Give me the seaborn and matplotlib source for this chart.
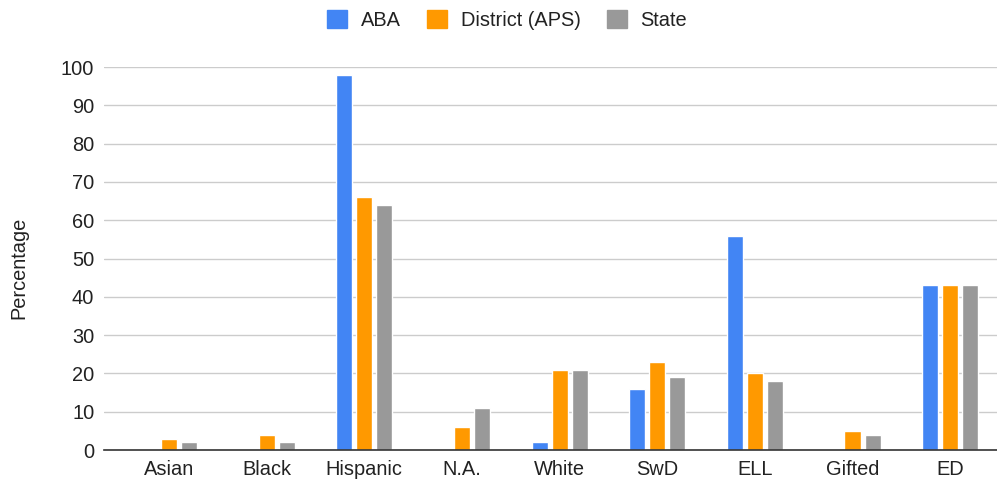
import pandas as pd
import seaborn as sns
import matplotlib.pyplot as plt
from matplotlib.patches import Patch

# Values
groups = ['Asian', 'Black', 'Hispanic', 'N.A.', 'White', 'SwD', 'ELL', 'Gifted', 'ED']
aba = [0, 0, 98, 0, 2, 16, 56, 0, 43]
district = [3, 4, 66, 6, 21, 23, 20, 5, 43]
state = [2, 2, 64, 11, 21, 19, 18, 4, 43]
series = ['ABA', 'District (APS)', 'State']
colors = ['#4285F4', '#FF9900', '#999999']


def build_frame():
    rows = []
    for name, vals in zip(series, [aba, district, state]):
        for g, v in zip(groups, vals):
            rows.append({'group': g, 'series': name, 'value': v})
    return pd.DataFrame(rows)


def main():
    df = build_frame()

    sns.set_style('white')
    plt.rcParams['font.family'] = ['Liberation Sans', 'DejaVu Sans']
    fs = 14.4

    fig = plt.figure(figsize=(9.97, 4.82), dpi=100)
    ax = fig.add_axes([104 / 997, 32 / 482, 893 / 997, 383 / 482])

    sns.barplot(data=df, x='group', y='value', hue='series', order=groups,
                hue_order=series, palette=colors, width=0.615, gap=0.2,
                saturation=1, legend=False, ax=ax, zorder=3)

    ax.set_ylim(0, 100)
    ax.set_xlim(-0.666, 8.48)
    ax.set_yticks(range(0, 101, 10))
    ax.yaxis.grid(True, color='#cccccc', linewidth=1, zorder=0)
    ax.xaxis.grid(False)
    for side in ['top', 'right', 'left']:
        ax.spines[side].set_visible(False)
    ax.spines['bottom'].set_color('#333333')
    ax.spines['bottom'].set_linewidth(1.2)
    ax.spines['bottom'].set_zorder(4)
    ax.tick_params(axis='both', length=0, labelsize=fs, colors='#222222')
    ax.tick_params(axis='y', pad=7)
    ax.tick_params(axis='x', pad=7)
    ax.set_xlabel('')
    ax.set_ylabel('')
    fig.text(19 / 997, 1 - 268 / 482, 'Percentage', rotation=90, fontsize=fs,
             color='#222222', ha='center', va='center')

    handles = [Patch(facecolor=c, edgecolor=c, label=s) for s, c in zip(series, colors)]
    fig.legend(handles=handles, loc='center', bbox_to_anchor=(507 / 997, 1 - 20 / 482),
               ncol=3, frameon=False, fontsize=fs, handlelength=1.0, handleheight=1.0,
               handletextpad=0.7, columnspacing=1.3, labelcolor='#222222')

    fig.savefig('out.png', dpi=100)


if __name__ == "__main__":
    main()
